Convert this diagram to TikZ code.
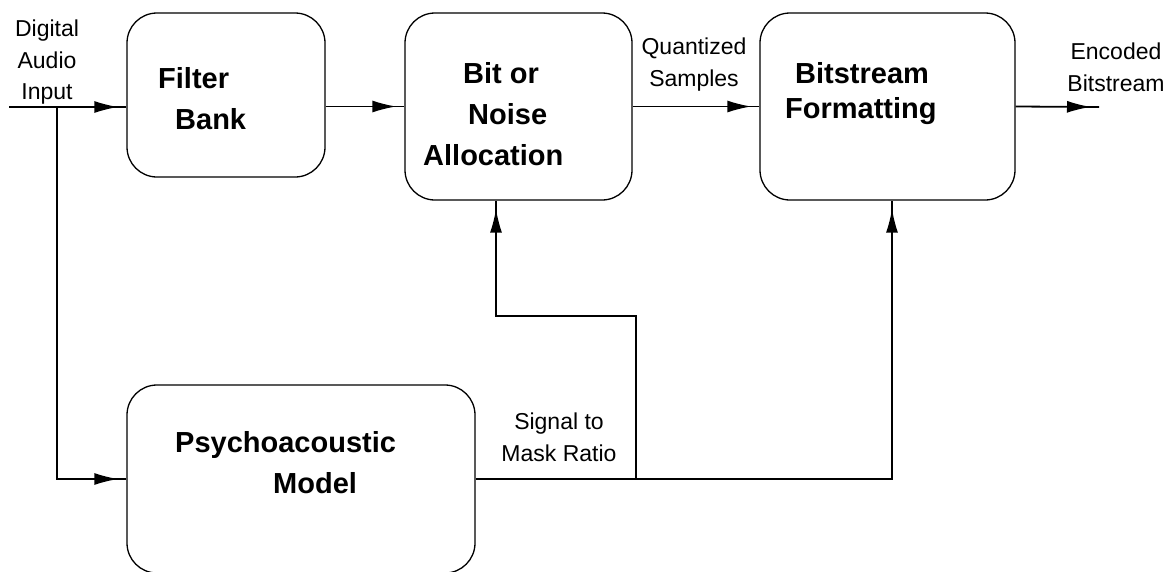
\documentclass[tikz,border=0pt]{standalone}
\usepackage{fontspec}
\setmainfont{Liberation Sans}
\usetikzlibrary{arrows.meta, decorations.markings}

\begin{document}
\begin{tikzpicture}[
		x=1pt, y=-1pt,
		block/.style={draw, rectangle, line width=1.3pt, rounded corners=30pt, inner sep=0pt},
		title/.style={anchor=north west, inner sep=0pt, align=left, font=\fontsize{29}{41}\selectfont\bfseries},
		note/.style={anchor=north, inner sep=0pt, align=center, font=\fontsize{23}{31.5}\selectfont},
		flow/.style={line width=1.8pt, postaction={decorate}, decoration={markings, mark=at position -8pt with {\arrow{Latex[length=24pt, width=12pt]}}}},
	]
	\useasboundingbox (0, 0) rectangle (1173, 571);

	\node[block, minimum width=198pt, minimum height=164pt] (filter) at (226, 95) {};
	\node[block, minimum width=227pt, minimum height=187pt] (alloc) at (518.5, 106.5) {};
	\node[block, minimum width=255pt, minimum height=187pt] (format) at (887.5, 106.5) {};
	\node[block, minimum width=348pt, minimum height=188pt] (psycho) at (301, 479) {};

	\node[title] (filter-txt) at (158, 67) {Filter\\\hspace*{17pt}Bank};
	\node[title] (alloc-txt) at (423, 62) {\hspace*{40pt}Bit or\\\hspace*{45pt}Noise\\Allocation};
	\node[title] (format-txt) at (785, 62) {\hspace*{10pt}Bitstream\\[-6pt]Formatting};
	\node[title] (psycho-txt) at (175, 431) {Psychoacoustic\\\hspace*{98pt}Model};

	\node[note] (src-txt) at (47, 20) {Digital\\Audio\\Input};
	\node[note] (quant-txt) at (694, 38) {Quantized\\Samples};
	\node[note] (sink-txt) at (1116, 43) {Encoded\\Bitstream};
	\node[note] (smr-txt) at (559, 413) {Signal to\\Mask Ratio};

	\coordinate (src) at (9, 107);
	\coordinate (split) at (57, 107);
	\coordinate (sink) at (1099, 107);
	\coordinate (tap) at (636, 479);
	\coordinate (knee) at (496, 316);

	\draw[flow] (src) -- (src -| filter.west);
	\draw[flow] (split) |- (psycho.west);
	\draw[flow] (filter.east |- alloc.west) -- (alloc.west);
	\draw[flow] (alloc.east) -- (format.west);
	\draw[flow] (format.east) -- (sink);
	\draw[flow] (psycho.east) -| ([xshift=4.5pt]format.south);
	\draw[flow] (tap) |- (knee) -- (knee |- alloc.south);
\end{tikzpicture}
\end{document}
